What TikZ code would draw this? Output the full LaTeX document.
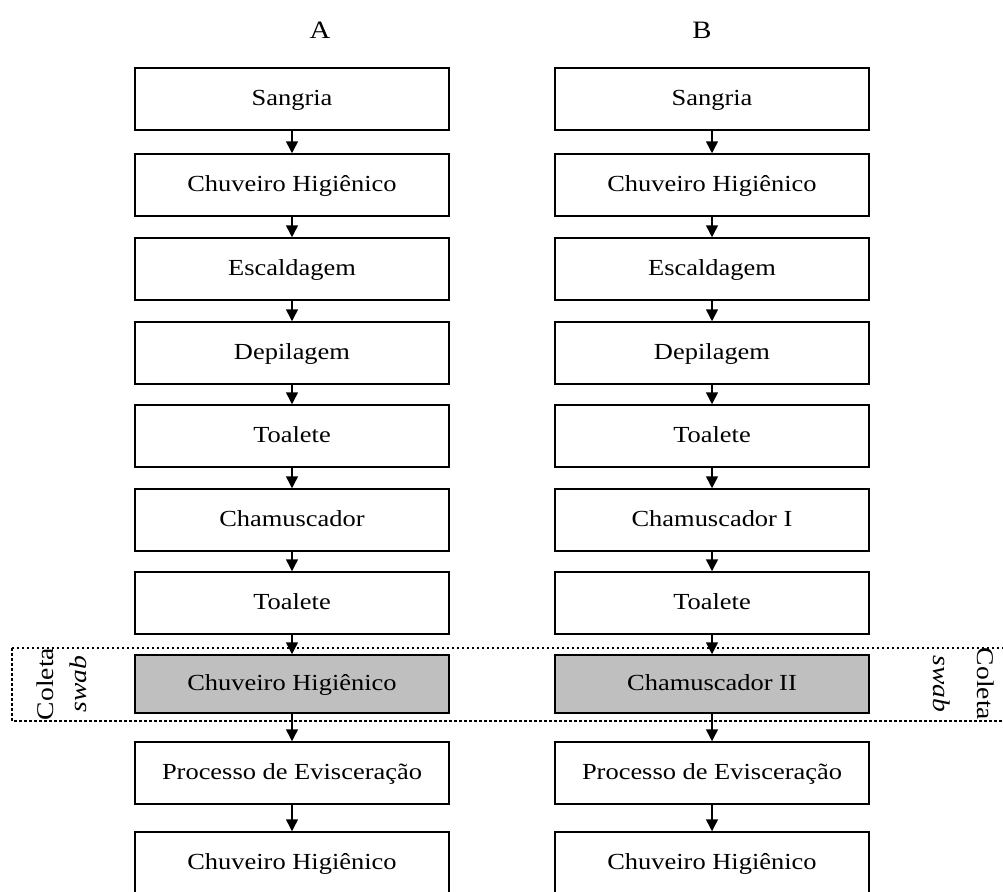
\documentclass[tikz,border=0pt]{standalone}
\usepackage{fontspec}
\setmainfont{Liberation Serif}[FakeStretch=1.15]
\usetikzlibrary{arrows.meta}
\usetikzlibrary{calc}

\tikzset{
  stage/.style={draw,rectangle,line width=1.5pt,minimum width=314pt,minimum height=62pt,
    inner sep=0pt,text height=17pt,text depth=5pt,font=\fontsize{23}{26}\selectfont},
  swabstage/.style={stage,fill=black!25,minimum height=58pt},
  flow/.style={draw,line width=1.5pt,-{Triangle[length=12pt,width=12pt]}},
  sidetext/.style={font=\fontsize{24}{26}\selectfont,inner sep=0pt},
}

\begin{document}
\begin{tikzpicture}[x=1pt,y=-1pt]

  \useasboundingbox (0,0) rectangle (1003,891);
  \clip (0,0) rectangle (1003,891);

  \node [font=\fontsize{25}{28}\selectfont] (Alab) at (320,30) {A};
  \node [font=\fontsize{25}{28}\selectfont] (Blab) at (702,30) {B};

  % column A
  \node [stage] (A1) at (292,99) {Sangria};
  \node [stage] (A2) at (292,185) {Chuveiro Higiênico};
  \node [stage] (A3) at (292,269) {Escaldagem};
  \node [stage] (A4) at (292,353) {Depilagem};
  \node [stage] (A5) at (292,436) {Toalete};
  \node [stage] (A6) at (292,520) {Chamuscador};
  \node [stage] (A7) at (292,603) {Toalete};
  \node [swabstage] (A8) at (292,684) {Chuveiro Higiênico};
  \node [stage] (A9) at (292,773) {Processo de Evisceração};
  \node [stage] (A10) at (292,863) {Chuveiro Higiênico};

  % column B
  \node [stage] (B1) at (712,99) {Sangria};
  \node [stage] (B2) at (712,185) {Chuveiro Higiênico};
  \node [stage] (B3) at (712,269) {Escaldagem};
  \node [stage] (B4) at (712,353) {Depilagem};
  \node [stage] (B5) at (712,436) {Toalete};
  \node [stage] (B6) at (712,520) {Chamuscador I};
  \node [stage] (B7) at (712,603) {Toalete};
  \node [swabstage] (B8) at (712,684) {Chamuscador II};
  \node [stage] (B9) at (712,773) {Processo de Evisceração};
  \node [stage] (B10) at (712,863) {Chuveiro Higiênico};

  \path [flow]
    (A1) edge (A2)
    (A2) edge (A3)
    (A3) edge (A4)
    (A4) edge (A5)
    (A5) edge (A6)
    (A6) edge (A7)
    (A7) edge (A8)
    (A8) edge (A9)
    (A9) edge (A10);

  \path [flow]
    (B1) edge (B2)
    (B2) edge (B3)
    (B3) edge (B4)
    (B4) edge (B5)
    (B5) edge (B6)
    (B6) edge (B7)
    (B7) edge (B8)
    (B8) edge (B9)
    (B9) edge (B10);

  % sampling band
  \coordinate (band_nw) at (12,648);
  \coordinate (band_se) at (1015,721);
  \draw [line width=2.5pt,dash pattern=on 2.5pt off 2.5pt] (band_nw) rectangle (band_se);

  \node [sidetext,rotate=90] (Acoleta) at (45,684) {Coleta};
  \node [sidetext,rotate=90] (Aswab) at (78,684) {\itshape swab};
  \node [sidetext,rotate=-90] (Bcoleta) at (986,684) {Coleta};
  \node [sidetext,rotate=-90] (Bswab) at (942,684) {\itshape swab};

\end{tikzpicture}
\end{document}
